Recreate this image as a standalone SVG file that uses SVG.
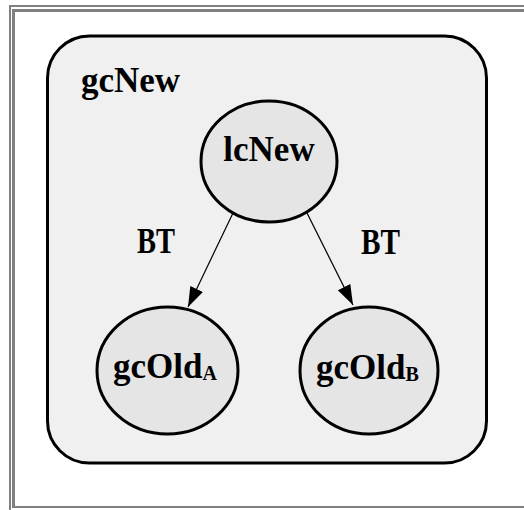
<svg xmlns="http://www.w3.org/2000/svg" width="524" height="510" viewBox="0 0 524 510">
  <style>
    .frame { fill: none; stroke: #808080; }
    .plate { fill: #f0f0f0; stroke: #000; stroke-width: 3; }
    .node { fill: #e5e5e5; stroke: #000; stroke-width: 3; }
    .lbl { font-family: "Liberation Serif", "Times New Roman", serif; font-weight: bold; font-size: 35px; fill: #000; }
    .sub { font-size: 20px; }
    .edge { fill: none; stroke: #000; stroke-width: 1.2; marker-end: url(#head); }
  </style>
  <defs>
    <marker id="head" markerUnits="userSpaceOnUse" markerWidth="22" markerHeight="16" refX="20" refY="7" orient="auto">
      <path d="M0,0 L20,7 L0,14 Z" fill="#000"/>
    </marker>
  </defs>

  <!-- bevelled page frame -->
  <path class="frame" stroke-width="2" d="M10,510 V6 H524"/>
  <path class="frame" stroke-width="3" d="M13.5,506 V10.5 H524"/>
  <path class="frame" stroke-width="2" d="M12,507 H524"/>

  <!-- enclosing plate -->
  <g id="gcNew">
    <rect class="plate" x="47.5" y="36" width="439" height="427" rx="42" ry="42"/>
    <text class="lbl" x="81" y="92">gcNew</text>
  </g>

  <!-- connectors -->
  <g id="edges">
    <line class="edge" x1="233" y1="213" x2="188" y2="307"/>
    <line class="edge" x1="307" y1="213" x2="353" y2="305"/>
    <text class="lbl" x="137" y="253" textLength="38" lengthAdjust="spacingAndGlyphs">BT</text>
    <text class="lbl" x="361" y="254" textLength="39" lengthAdjust="spacingAndGlyphs">BT</text>
  </g>

  <g id="lcNew">
    <ellipse class="node" cx="269" cy="161.5" rx="68" ry="60.5"/>
    <text class="lbl" x="269" y="161" text-anchor="middle">lcNew</text>
  </g>

  <g id="gcOldA">
    <ellipse class="node" cx="167.5" cy="370.5" rx="70.5" ry="63.5"/>
    <text class="lbl" x="113" y="378">gcOld<tspan class="sub" dy="2">A</tspan></text>
  </g>

  <g id="gcOldB">
    <ellipse class="node" cx="369" cy="370.5" rx="69" ry="63.5"/>
    <text class="lbl" x="316" y="379">gcOld<tspan class="sub" dy="2">B</tspan></text>
  </g>
</svg>
